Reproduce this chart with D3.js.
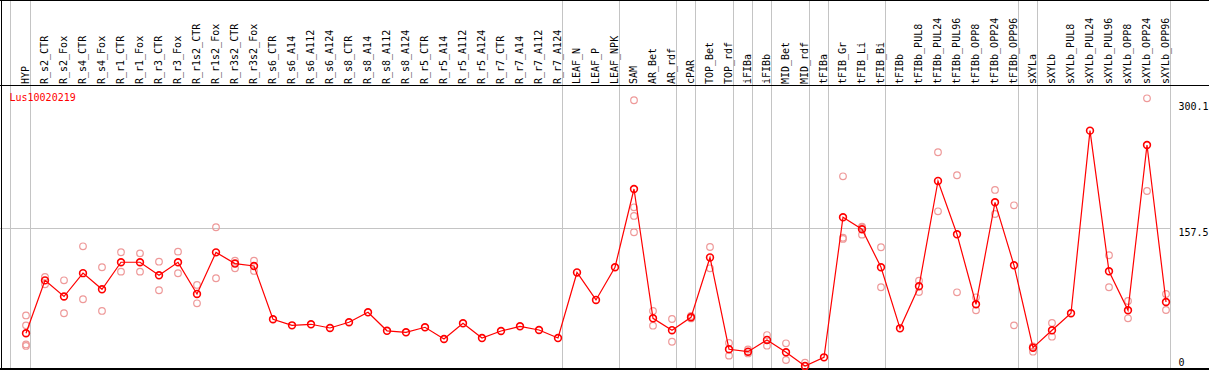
<!DOCTYPE html>
<html lang="en">
  <head>
    <meta charset="UTF-8" />
    <title>Lus10020219</title>
    <style>
      body { margin: 0; background: #fff; }
      svg { display: block; }
      text { font-family: "DejaVu Sans Mono", monospace; font-size: 10px; }
    </style>
  </head>
  <body>
    <script src="https://d3js.org/d3.v7.min.js"></script>
    <script>
      const width = 1209;
      const height = 370;

      const geneId = "Lus10020219";

      const categories = [
        "HYP", "R_s2_CTR", "R_s2_Fox", "R_s4_CTR", "R_s4_Fox", "R_r1_CTR", "R_r1_Fox",
        "R_r3_CTR", "R_r3_Fox", "R_r1s2_CTR", "R_r1s2_Fox", "R_r3s2_CTR", "R_r3s2_Fox",
        "R_s6_CTR", "R_s6_A14", "R_s6_A112", "R_s6_A124", "R_s8_CTR", "R_s8_A14",
        "R_s8_A112", "R_s8_A124", "R_r5_CTR", "R_r5_A14", "R_r5_A112", "R_r5_A124",
        "R_r7_CTR", "R_r7_A14", "R_r7_A112", "R_r7_A124", "LEAF_N", "LEAF_P", "LEAF_NPK",
        "SAM", "AR_Bet", "AR_rdf", "cPAR", "TOP_Bet", "TOP_rdf", "iFIBa", "iFIBb",
        "MID_Bet", "MID_rdf", "tFIBa", "tFIB_Gr", "tFIB_Li", "tFIB_Bi", "tFIBb",
        "tFIBb_PUL8", "tFIBb_PUL24", "tFIBb_PUL96", "tFIBb_OPP8", "tFIBb_OPP24",
        "tFIBb_OPP96", "sXYLa", "sXYLb", "sXYLb_PUL8", "sXYLb_PUL24", "sXYLb_PUL96",
        "sXYLb_OPP8", "sXYLb_OPP24", "sXYLb_OPP96"
      ];

      // mean expression per sample
      const means = [
        37.7, 97.7, 79.4, 105.9, 87.6, 118.3, 118.3,
        103.5, 118.2, 82.3, 129.5, 116.8, 114.0,
        53.6, 46.7, 47.9, 43.7, 50.2, 61.5,
        40.5, 38.8, 44.5, 31.2, 49.0, 32.3,
        40.3, 45.6, 41.4, 32.3, 106.7, 75.5, 112.6,
        201.4, 54.7, 41.2, 55.8, 123.7, 19.6, 16.8, 30.1,
        16.1, 0.6, 10.4, 169.3, 155.7, 112.6, 43.3,
        91.0, 210.5, 150.0, 70.6, 186.3,
        114.8, 21.3, 41.1, 60.4, 267.6, 108.0,
        63.8, 251.3, 73.2
      ];

      // individual replicates (empty where only the mean is visible)
      const replicates = [
        [57.9, 46.7, 25.0, 23.3], [101.6, 93.3], [97.8, 60.4], [136.4, 76.3], [112.6, 63.0],
        [129.6, 107.6], [128.4, 107.6], [118.9, 86.5], [130.3, 105.8], [92.5, 71.7],
        [158.0, 100.1], [120.1, 111.4], [120.1, 108.4],
        [], [], [], [], [], [], [], [], [], [], [], [], [], [], [], [],
        [], [], [],
        [302.1, 180.6, 170.8, 152.3], [63.0, 46.3], [53.9, 28.1], [57.3, 54.5],
        [135.6, 111.4], [26.7, 12.3], [19.3, 14.8], [35.7, 23.6],
        [26.3, 7.4], [4.3, 0.2], [], [215.8, 146.1, 144.7], [158.6, 157.9, 149.6],
        [135.3, 89.9], [],
        [97.4, 84.5], [243.1, 176.1], [217.0, 84.2], [78.5, 63.8], [200.3, 173.0],
        [182.9, 46.7], [22.7, 16.8], [49.4, 33.8], [], [],
        [126.2, 89.9], [74.3, 54.7], [304.3, 199.1], [82.3, 64.1]
      ];

      // samples after which a group separator is drawn
      const groupEnds = [
        "HYP", "R_r7_A124", "LEAF_NPK", "AR_rdf", "cPAR", "TOP_rdf", "iFIBa",
        "iFIBb", "MID_rdf", "tFIBa", "tFIB_Bi", "tFIBb_OPP96", "sXYLa", "sXYLb_OPP96"
      ];

      const yTicks = [0, 157.5, 300.1];

      const labelBottom = 84;
      const headerLine = 85.5;
      const plotRight = 1170.5;

      const x = d3.scalePoint().domain(categories).range([26, 1166]);
      const y = d3.scaleLinear().domain([0, 300.1]).range([366.5, 102]);

      const svg = d3
        .select("body")
        .append("svg")
        .attr("width", width)
        .attr("height", height);

      // vertical separators
      const seps = [10.5].concat(groupEnds.map((c) => x(c) + 4.5));
      svg
        .selectAll("line.sep")
        .data(seps)
        .join("line")
        .attr("class", "sep")
        .attr("x1", (d) => d)
        .attr("x2", (d) => d)
        .attr("y1", 0)
        .attr("y2", height)
        .attr("stroke", "#c4c4c4")
        .attr("stroke-width", 1);

      // middle gridline
      svg
        .append("line")
        .attr("x1", 0)
        .attr("x2", plotRight)
        .attr("y1", Math.round(y(157.5)) + 0.5)
        .attr("y2", Math.round(y(157.5)) + 0.5)
        .attr("stroke", "#c4c4c4");

      // frame
      svg.append("line").attr("x1", 0).attr("x2", width).attr("y1", 0.5).attr("y2", 0.5).attr("stroke", "#000");
      svg.append("line").attr("x1", 0).attr("x2", width).attr("y1", headerLine).attr("y2", headerLine).attr("stroke", "#000");
      svg.append("line").attr("x1", 0).attr("x2", width).attr("y1", 369).attr("y2", 369).attr("stroke", "#000").attr("stroke-width", 2);
      svg.append("line").attr("x1", 1.5).attr("x2", 1.5).attr("y1", 0).attr("y2", height).attr("stroke", "#000");

      // sample labels
      svg
        .selectAll("text.cat")
        .data(categories)
        .join("text")
        .attr("class", "cat")
        .attr("transform", (d) => `translate(${x(d) + 3},${labelBottom}) rotate(-90)`)
        .attr("fill", "#000")
        .text((d) => d);

      // gene id
      svg
        .append("text")
        .attr("x", 9.5)
        .attr("y", 100.5)
        .attr("fill", "#ff0000")
        .text(geneId);

      // y labels
      svg
        .selectAll("text.ytick")
        .data(yTicks)
        .join("text")
        .attr("class", "ytick")
        .attr("x", 1178.5)
        .attr("y", (d) => Math.min(y(d) + 8, 365.5))
        .attr("fill", "#000")
        .text((d) => d);

      // replicates
      const reps = replicates.flatMap((vals, i) =>
        vals.map((v) => ({ c: categories[i], v }))
      );
      svg
        .selectAll("circle.rep")
        .data(reps)
        .join("circle")
        .attr("class", "rep")
        .attr("cx", (d) => x(d.c))
        .attr("cy", (d) => y(d.v))
        .attr("r", 3.3)
        .attr("fill", "none")
        .attr("stroke", "#ee9999")
        .attr("stroke-width", 1.2);

      // mean line
      const line = d3
        .line()
        .x((d, i) => x(categories[i]))
        .y((d) => y(d));
      svg
        .append("path")
        .datum(means)
        .attr("d", line)
        .attr("fill", "none")
        .attr("stroke", "#ff0000")
        .attr("stroke-width", 1.2);

      svg
        .selectAll("circle.mean")
        .data(means)
        .join("circle")
        .attr("class", "mean")
        .attr("cx", (d, i) => x(categories[i]))
        .attr("cy", (d) => y(d))
        .attr("r", 3.4)
        .attr("fill", "none")
        .attr("stroke", "#ff0000")
        .attr("stroke-width", 1.6);
    </script>
  </body>
</html>
